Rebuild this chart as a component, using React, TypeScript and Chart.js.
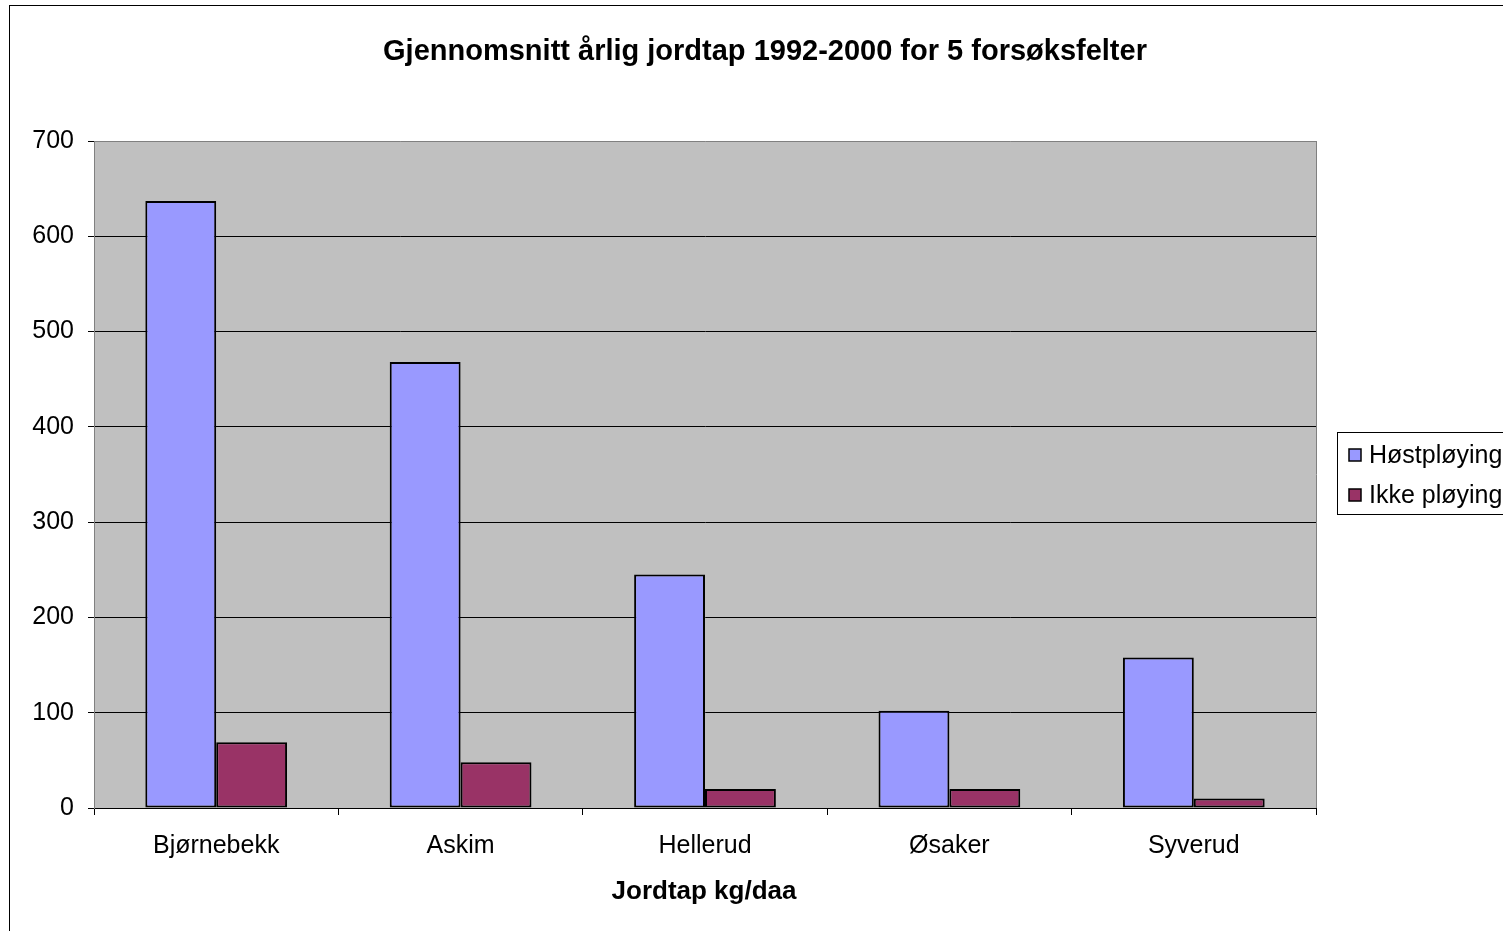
import React, { useEffect, useRef } from "react";
import { Chart, registerables } from "chart.js";

Chart.register(...registerables);

const categories = ["Bjørnebekk", "Askim", "Hellerud", "Øsaker", "Syverud"];
const seriesNames = ["Høstpløying", "Ikke pløying"];
const hostploying = [637, 468, 245, 102, 158];
const ikkePloying = [69, 48, 20, 20, 10];
const seriesColors = ["#9999FF", "#993366"];
const titleText = "Gjennomsnitt årlig jordtap 1992-2000 for 5 forsøksfelter";
const xAxisTitle = "Jordtap kg/daa";
const FONT = "Arial, 'Liberation Sans', sans-serif";

const decorPlugin = {
  id: "decor",
  beforeDraw(chart: any) {
    const { ctx, chartArea } = chart;
    ctx.save();
    ctx.fillStyle = "#ffffff";
    ctx.fillRect(0, 0, chart.width, chart.height);
    ctx.fillStyle = "#C0C0C0";
    ctx.fillRect(chartArea.left, chartArea.top, chartArea.right - chartArea.left, chartArea.bottom - chartArea.top);
    ctx.restore();
  },
  afterDraw(chart: any) {
    const { ctx, chartArea } = chart;
    ctx.save();
    // outer frame
    ctx.strokeStyle = "#000";
    ctx.lineWidth = 1;
    ctx.strokeRect(9.5, 5.5, 1700, 1100);
    // right plot border
    ctx.strokeStyle = "#808080";
    ctx.beginPath();
    ctx.moveTo(chartArea.right + 0.5, chartArea.top);
    ctx.lineTo(chartArea.right + 0.5, chartArea.bottom);
    ctx.stroke();
    // title
    ctx.fillStyle = "#000";
    ctx.font = `bold 29px ${FONT}`;
    ctx.textAlign = "center";
    ctx.textBaseline = "middle";
    ctx.fillText(titleText, 765, 52);
    // x axis title
    ctx.font = `bold 26px ${FONT}`;
    ctx.fillText(xAxisTitle, 704, 892);
    // legend
    ctx.strokeStyle = "#000";
    ctx.strokeRect(1337.5, 432.5, 300, 82);
    ctx.font = `25px ${FONT}`;
    ctx.textAlign = "left";
    seriesNames.forEach((name, i) => {
      const cy = 455 + i * 40;
      ctx.fillStyle = seriesColors[i];
      ctx.fillRect(1349, cy - 6, 12, 12);
      ctx.strokeStyle = "#000";
      ctx.lineWidth = 1.5;
      ctx.strokeRect(1349, cy - 6, 12, 12);
      ctx.fillStyle = "#000";
      ctx.fillText(name, 1369, cy + 1);
    });
    ctx.restore();
  },
};

export default function App() {
  const ref = useRef<HTMLCanvasElement>(null);
  useEffect(() => {
    if (!ref.current) return;
    const chart = new Chart(ref.current, {
      type: "bar",
      data: {
        labels: categories,
        datasets: [
          {
            label: seriesNames[0],
            data: hostploying,
            backgroundColor: seriesColors[0],
            borderColor: "#000",
            borderWidth: 2,
            borderSkipped: false,
          },
          {
            label: seriesNames[1],
            data: ikkePloying,
            backgroundColor: seriesColors[1],
            borderColor: "#000",
            borderWidth: 2,
            borderSkipped: false,
          },
        ],
      },
      options: {
        responsive: false,
        animation: false,
        datasets: { bar: { categoryPercentage: 0.58, barPercentage: 1 } },
        layout: { padding: { left: 0, right: 187, top: 141, bottom: 0 } },
        plugins: { legend: { display: false }, title: { display: false }, tooltip: { enabled: false } },
        scales: {
          x: {
            afterFit: (s: any) => {
              s.height = 123;
            },
            grid: {
              offset: true,
              drawOnChartArea: false,
              tickLength: 7,
              color: "#000",
              tickColor: "#000",
            },
            border: { color: "#000", width: 1 },
            ticks: {
              color: "#000",
              padding: 16,
              font: { family: FONT, size: 25 },
            },
          },
          y: {
            min: 0,
            max: 700,
            afterFit: (s: any) => {
              s.width = 94;
            },
            grid: {
              tickLength: 6,
              color: (c: any) => (c.tick && c.tick.value === 700 ? "#808080" : "#000"),
              tickColor: "#000",
            },
            border: { color: "#808080", width: 1 },
            ticks: {
              stepSize: 100,
              color: "#000",
              padding: 14,
              font: { family: FONT, size: 25 },
            },
          },
        },
      },
      plugins: [decorPlugin],
    });
    return () => chart.destroy();
  }, []);
  return (
    <div style={{ position: "fixed", left: 0, top: 0, width: 1503, height: 931 }}>
      <canvas ref={ref} width={1503} height={931} style={{ width: 1503, height: 931 }} />
    </div>
  );
}
